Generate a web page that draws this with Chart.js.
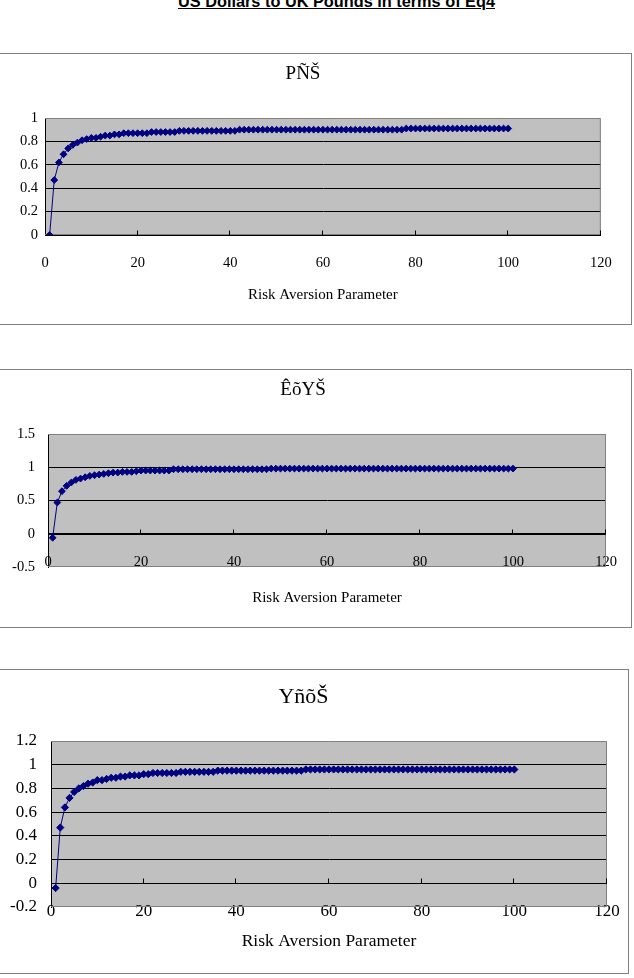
<!DOCTYPE html>
<html><head><meta charset="utf-8">
<script src="https://cdn.jsdelivr.net/npm/chart.js@4/dist/chart.umd.min.js"></script>
<style>
html,body{margin:0;padding:0;background:#fff;width:634px;height:978px;overflow:hidden;position:relative;}
.box{position:absolute;border:1px solid #808080;box-sizing:border-box;background:#fff;}
.box canvas{position:absolute;left:0;top:0;}
#main{position:absolute;left:178px;top:-7px;white-space:nowrap;font:bold 16.3px "Liberation Sans",Arial,sans-serif;text-decoration:underline;color:#000;transform-origin:0 0;line-height:17px;}
</style></head><body>
<div id="main"></div>
<div class="box" style="left:-1px;top:53px;width:633px;height:272px"><canvas id="c1" width="631" height="270"></canvas></div>
<div class="box" style="left:-1px;top:369px;width:633px;height:259px"><canvas id="c2" width="631" height="257"></canvas></div>
<div class="box" style="left:-1px;top:669px;width:630px;height:305px"><canvas id="c3" width="628" height="303"></canvas></div>
<script>
const mainTitle = 'US Dollars to UK Pounds in terms of Eq4';
const chartTitles = ['PÑŠ', 'ÊõYŠ', 'YñõŠ'];
const xAxisTitle = 'Risk Aversion Parameter';
const xTicks = [0, 20, 40, 60, 80, 100, 120];
const yTicksTop = [0, 0.2, 0.4, 0.6, 0.8, 1];
const yTicksMid = [-0.5, 0, 0.5, 1, 1.5];
const yTicksBot = [-0.2, 0, 0.2, 0.4, 0.6, 0.8, 1, 1.2];

const riskAversion = [1,2,3,4,5,6,7,8,9,10,11,12,13,14,15,16,17,18,19,20,
21,22,23,24,25,26,27,28,29,30,31,32,33,34,35,36,37,38,39,40,
41,42,43,44,45,46,47,48,49,50,51,52,53,54,55,56,57,58,59,60,
61,62,63,64,65,66,67,68,69,70,71,72,73,74,75,76,77,78,79,80,
81,82,83,84,85,86,87,88,89,90,91,92,93,94,95,96,97,98,99,100];

const seriesTop = [0.00,0.47,0.62,0.69,0.74,0.77,0.79,0.81,0.82,0.83,
0.83,0.84,0.85,0.85,0.86,0.86,0.87,0.87,0.87,0.87,
0.87,0.87,0.88,0.88,0.88,0.88,0.88,0.88,0.89,0.89,
0.89,0.89,0.89,0.89,0.89,0.89,0.89,0.89,0.89,0.89,
0.89,0.90,0.90,0.90,0.90,0.90,0.90,0.90,0.90,0.90,
0.90,0.90,0.90,0.90,0.90,0.90,0.90,0.90,0.90,0.90,
0.90,0.90,0.90,0.90,0.90,0.90,0.90,0.90,0.90,0.90,
0.90,0.90,0.90,0.90,0.90,0.90,0.90,0.91,0.91,0.91,
0.91,0.91,0.91,0.91,0.91,0.91,0.91,0.91,0.91,0.91,
0.91,0.91,0.91,0.91,0.91,0.91,0.91,0.91,0.91,0.91];

const seriesMid = [-0.06,0.47,0.64,0.72,0.77,0.81,0.83,0.85,0.87,0.88,
0.89,0.90,0.91,0.92,0.92,0.93,0.93,0.93,0.94,0.95,
0.95,0.95,0.95,0.95,0.95,0.95,0.97,0.97,0.97,0.97,
0.97,0.97,0.97,0.97,0.97,0.97,0.97,0.97,0.97,0.97,
0.97,0.97,0.97,0.97,0.97,0.97,0.97,0.98,0.98,0.98,
0.98,0.98,0.98,0.98,0.98,0.98,0.98,0.98,0.98,0.98,
0.98,0.98,0.98,0.98,0.98,0.98,0.98,0.98,0.98,0.98,
0.98,0.98,0.98,0.98,0.98,0.98,0.98,0.98,0.98,0.98,
0.98,0.98,0.98,0.98,0.98,0.98,0.98,0.98,0.98,0.98,
0.98,0.98,0.98,0.98,0.98,0.98,0.98,0.98,0.98,0.98];

const seriesBot = [-0.04,0.47,0.64,0.72,0.77,0.80,0.82,0.84,0.85,0.87,
0.87,0.88,0.89,0.89,0.90,0.90,0.91,0.91,0.91,0.92,
0.92,0.93,0.93,0.93,0.93,0.93,0.93,0.94,0.94,0.94,
0.94,0.94,0.94,0.94,0.94,0.95,0.95,0.95,0.95,0.95,
0.95,0.95,0.95,0.95,0.95,0.95,0.95,0.95,0.95,0.95,
0.95,0.95,0.95,0.95,0.96,0.96,0.96,0.96,0.96,0.96,
0.96,0.96,0.96,0.96,0.96,0.96,0.96,0.96,0.96,0.96,
0.96,0.96,0.96,0.96,0.96,0.96,0.96,0.96,0.96,0.96,
0.96,0.96,0.96,0.96,0.96,0.96,0.96,0.96,0.96,0.96,
0.96,0.96,0.96,0.96,0.96,0.96,0.96,0.96,0.96,0.96];

// main title
const mainEl = document.getElementById('main');
mainEl.textContent = mainTitle;
const w = mainEl.getBoundingClientRect().width;
mainEl.style.transform = 'scaleX(' + (317 / w) + ')';

const SERIF = '"Liberation Serif","Times New Roman",serif';
const NAVY = '#000080';

const plotDecor = {
  id: 'plotDecor',
  beforeDraw(chart) {
    const {ctx, chartArea: a} = chart;
    ctx.save();
    ctx.fillStyle = '#c0c0c0';
    ctx.fillRect(a.left, a.top, a.right - a.left, a.bottom - a.top);
    ctx.restore();
  },
  beforeDatasetsDraw(chart) {
    const {ctx, chartArea: a, scales: {x, y}} = chart;
    ctx.save();
    ctx.lineWidth = 1;
    ctx.strokeStyle = '#808080';
    ctx.beginPath();
    ctx.moveTo(a.left, a.top + 0.5);
    ctx.lineTo(a.right - 0.5, a.top + 0.5);
    ctx.lineTo(a.right - 0.5, a.bottom - 0.5);
    ctx.lineTo(a.left, a.bottom - 0.5);
    ctx.stroke();
    const y0 = Math.round(y.getPixelForValue(0)) + 0.5;
    ctx.strokeStyle = '#000';
    ctx.beginPath();
    ctx.moveTo(a.left, y0); ctx.lineTo(a.right, y0);
    x.ticks.forEach(t => {
      if (t.value === 0) return;
      const px = Math.round(x.getPixelForValue(t.value)) - 0.5;
      ctx.moveTo(px, y0); ctx.lineTo(px, y0 - 5);
    });
    ctx.stroke();
    ctx.restore();
  }
};

function makeChart(id, title, series, yTicks, g) {
  const yMin = yTicks[0], yMax = yTicks[yTicks.length - 1];
  return new Chart(document.getElementById(id), {
    type: 'scatter',
    data: {
      datasets: [{
        data: riskAversion.map((r, i) => ({x: r, y: series[i]})),
        showLine: true,
        borderColor: NAVY,
        backgroundColor: NAVY,
        borderWidth: 1,
        pointStyle: 'rectRot',
        pointRadius: g.pr,
        pointBorderWidth: 1,
        pointBorderColor: NAVY,
        pointBackgroundColor: NAVY,
        tension: 0
      }]
    },
    options: {
      responsive: false,
      animation: false,
      devicePixelRatio: 1,
      layout: {padding: {left: 0, right: g.right, top: 0, bottom: g.xH}},
      plugins: {
        legend: {display: false},
        tooltip: {enabled: false},
        title: {
          display: true, text: title, color: '#000',
          font: {family: SERIF, size: g.titleSize, weight: 'normal'},
          padding: {top: g.titleTop, bottom: g.titleBottom}
        }
      },
      scales: {
        x: {
          type: 'linear', position: {y: yMin},
          min: xTicks[0], max: xTicks[xTicks.length - 1],
          afterBuildTicks: s => { s.ticks = xTicks.map(v => ({value: v})); },
          ticks: {color: '#000', font: {family: SERIF, size: g.tickSize}, padding: g.xPad, maxRotation: 0, autoSkip: false},
          grid: {display: false, drawTicks: false},
          border: {display: false},
          title: {display: true, text: xAxisTitle, color: '#000', font: {family: SERIF, size: g.axisTitleSize}, padding: {top: 0, bottom: g.axisTitlePad}},
          afterFit: s => { s.height = g.xH; }
        },
        y: {
          type: 'linear', min: yMin, max: yMax,
          afterBuildTicks: s => { s.ticks = yTicks.map(v => ({value: v})); },
          ticks: {color: '#000', font: {family: SERIF, size: g.tickSize}, padding: g.yPad,
            callback: v => String(Math.round(v * 10) / 10)},
          grid: {
            drawTicks: false, lineWidth: 1,
            color: c => {
              const v = c.tick ? c.tick.value : null;
              if (v === null) return '#000';
              if (Math.abs(v - yMax) < 1e-9) return 'rgba(0,0,0,0)';
              if (Math.abs(v - yMin) < 1e-9 && v !== 0) return 'rgba(0,0,0,0)';
              return '#000';
            }
          },
          border: {display: true, color: '#000'},
          afterFit: s => { s.width = g.yW; }
        }
      }
    },
    plugins: [plotDecor]
  });
}

makeChart('c1', chartTitles[0], seriesTop, yTicksTop, {
  pr: 3.4, right: 25, titleSize: 19, titleTop: 8.6, titleBottom: 32.6,
  tickSize: 14.5, xPad: 19.3, axisTitleSize: 15, axisTitlePad: 20, xH: 89, yPad: 7, yW: 45
});
makeChart('c2', chartTitles[1], seriesMid, yTicksMid, {
  pr: 3.4, right: 25, titleSize: 19, titleTop: 8.6, titleBottom: 32.6,
  tickSize: 14.5, xPad: -13.4, axisTitleSize: 15, axisTitlePad: 20, xH: 60, yPad: 13, yW: 48
});
makeChart('c3', chartTitles[2], seriesBot, yTicksBot, {
  pr: 3.6, right: 21, titleSize: 22, titleTop: 13.8, titleBottom: 30.8,
  tickSize: 17, xPad: -5.2, axisTitleSize: 17.5, axisTitlePad: 20.8, xH: 66, yPad: 14, yW: 51
});
</script>
</body></html>
